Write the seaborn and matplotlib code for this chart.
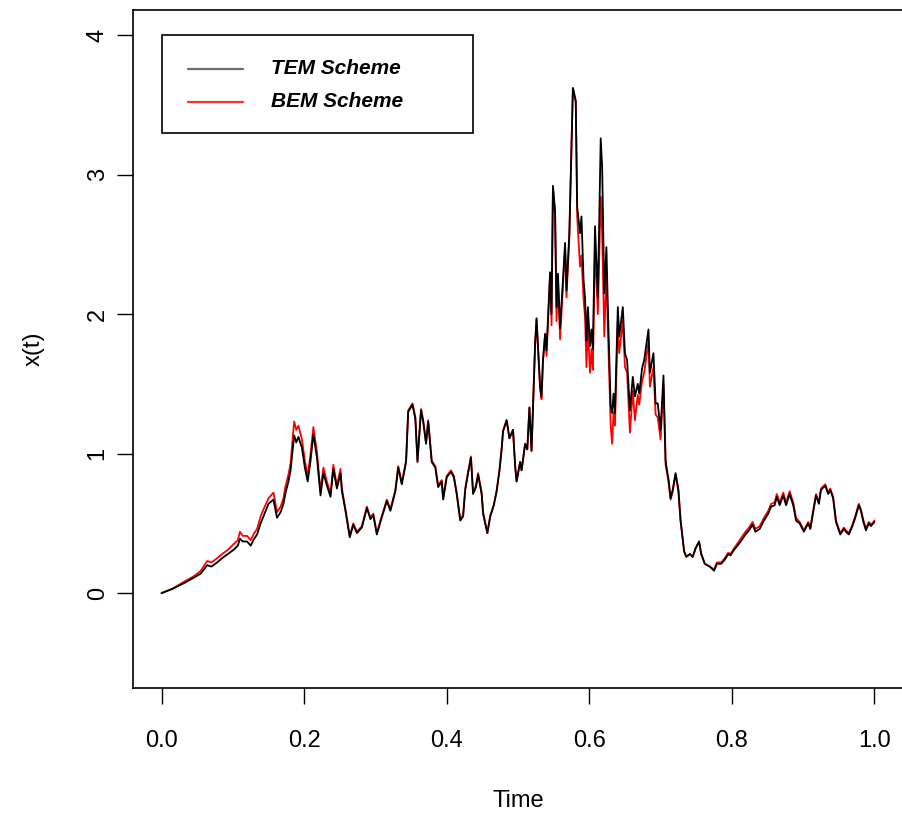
import seaborn as sns
import matplotlib.pyplot as plt
import pandas as pd
from matplotlib.patches import Rectangle

# values
time = [0.000, 0.015, 0.031, 0.045, 0.055, 0.064, 0.070, 0.078, 0.085, 0.093,
        0.101, 0.107, 0.110, 0.114, 0.120, 0.125, 0.130, 0.134, 0.139, 0.143,
        0.150, 0.157, 0.162, 0.167, 0.171, 0.174, 0.178, 0.181, 0.186, 0.189,
        0.192, 0.197, 0.201, 0.205, 0.209, 0.213, 0.218, 0.223, 0.227, 0.232,
        0.237, 0.241, 0.246, 0.251, 0.253, 0.258, 0.264, 0.269, 0.274, 0.281,
        0.288, 0.293, 0.297, 0.302, 0.307, 0.316, 0.321, 0.328, 0.332, 0.337,
        0.343, 0.346, 0.352, 0.356, 0.359, 0.364, 0.367, 0.371, 0.374, 0.379,
        0.384, 0.388, 0.393, 0.395, 0.400, 0.406, 0.410, 0.414, 0.419, 0.423,
        0.426, 0.430, 0.434, 0.437, 0.441, 0.444, 0.449, 0.451, 0.457, 0.461,
        0.466, 0.470, 0.474, 0.477, 0.479, 0.484, 0.488, 0.493, 0.496, 0.498,
        0.503, 0.505, 0.510, 0.513, 0.516, 0.519, 0.524, 0.526, 0.531, 0.533,
        0.535, 0.538, 0.540, 0.545, 0.547, 0.549, 0.552, 0.554, 0.556, 0.559,
        0.563, 0.566, 0.568, 0.572, 0.577, 0.581, 0.583, 0.587, 0.589, 0.592,
        0.594, 0.596, 0.598, 0.601, 0.603, 0.605, 0.608, 0.611, 0.612, 0.616,
        0.618, 0.621, 0.624, 0.626, 0.630, 0.632, 0.634, 0.636, 0.640, 0.642,
        0.647, 0.650, 0.653, 0.657, 0.661, 0.664, 0.668, 0.670, 0.674, 0.677,
        0.683, 0.685, 0.690, 0.693, 0.696, 0.700, 0.704, 0.707, 0.709, 0.711,
        0.714, 0.717, 0.721, 0.725, 0.728, 0.733, 0.736, 0.741, 0.745, 0.749,
        0.754, 0.757, 0.762, 0.769, 0.775, 0.779, 0.785, 0.790, 0.795, 0.798,
        0.803, 0.811, 0.819, 0.824, 0.829, 0.833, 0.839, 0.845, 0.851, 0.855,
        0.860, 0.863, 0.867, 0.872, 0.876, 0.881, 0.886, 0.890, 0.895, 0.901,
        0.907, 0.910, 0.915, 0.918, 0.922, 0.925, 0.931, 0.935, 0.938, 0.942,
        0.946, 0.952, 0.957, 0.960, 0.964, 0.969, 0.973, 0.978, 0.981, 0.984,
        0.988, 0.992, 0.995, 1.000]

tem = [0.00, 0.03, 0.07, 0.11, 0.14, 0.20, 0.19, 0.22, 0.25, 0.28,
       0.31, 0.34, 0.39, 0.37, 0.37, 0.34, 0.39, 0.42, 0.50, 0.55,
       0.64, 0.67, 0.54, 0.58, 0.64, 0.72, 0.80, 0.88, 1.13, 1.08,
       1.12, 1.04, 0.90, 0.80, 0.95, 1.14, 0.97, 0.70, 0.86, 0.77,
       0.69, 0.89, 0.75, 0.86, 0.73, 0.59, 0.40, 0.49, 0.43, 0.47,
       0.61, 0.53, 0.56, 0.42, 0.51, 0.66, 0.59, 0.73, 0.90, 0.78,
       0.94, 1.30, 1.35, 1.25, 0.94, 1.31, 1.23, 1.07, 1.23, 0.94,
       0.90, 0.76, 0.80, 0.67, 0.83, 0.87, 0.83, 0.71, 0.52, 0.55,
       0.74, 0.86, 0.97, 0.71, 0.76, 0.85, 0.71, 0.57, 0.43, 0.55,
       0.63, 0.73, 0.88, 1.03, 1.16, 1.24, 1.11, 1.17, 0.91, 0.80,
       0.94, 0.88, 1.07, 1.03, 1.33, 1.02, 1.79, 1.97, 1.48, 1.41,
       1.67, 1.86, 1.74, 2.30, 2.00, 2.92, 2.74, 2.05, 2.29, 1.90,
       2.24, 2.51, 2.17, 2.58, 3.62, 3.53, 2.77, 2.58, 2.70, 2.24,
       2.12, 1.81, 2.05, 1.77, 1.89, 1.75, 2.63, 2.24, 2.12, 3.26,
       3.06, 2.15, 2.48, 2.05, 1.34, 1.29, 1.43, 1.29, 2.05, 1.84,
       2.05, 1.72, 1.67, 1.31, 1.55, 1.41, 1.50, 1.43, 1.61, 1.67,
       1.89, 1.58, 1.72, 1.36, 1.36, 1.17, 1.56, 0.95, 0.88, 0.82,
       0.68, 0.74, 0.86, 0.74, 0.52, 0.30, 0.26, 0.28, 0.26, 0.32,
       0.37, 0.28, 0.21, 0.19, 0.16, 0.21, 0.21, 0.24, 0.28, 0.27,
       0.31, 0.36, 0.42, 0.45, 0.49, 0.44, 0.46, 0.52, 0.57, 0.62,
       0.63, 0.69, 0.63, 0.70, 0.63, 0.71, 0.63, 0.52, 0.50, 0.44,
       0.50, 0.46, 0.61, 0.70, 0.64, 0.74, 0.77, 0.71, 0.74, 0.68,
       0.51, 0.42, 0.46, 0.44, 0.42, 0.48, 0.54, 0.63, 0.59, 0.52,
       0.45, 0.50, 0.48, 0.51]

bem = [0.00, 0.03, 0.08, 0.12, 0.16, 0.23, 0.22, 0.25, 0.28, 0.31,
       0.35, 0.38, 0.44, 0.41, 0.41, 0.38, 0.43, 0.46, 0.55, 0.60,
       0.68, 0.72, 0.58, 0.62, 0.68, 0.77, 0.85, 0.93, 1.23, 1.17,
       1.20, 1.10, 0.95, 0.84, 1.00, 1.19, 1.01, 0.73, 0.90, 0.80,
       0.71, 0.92, 0.77, 0.89, 0.75, 0.60, 0.41, 0.50, 0.44, 0.48,
       0.62, 0.54, 0.57, 0.43, 0.52, 0.67, 0.60, 0.74, 0.91, 0.79,
       0.95, 1.31, 1.36, 1.26, 0.95, 1.32, 1.24, 1.08, 1.24, 0.95,
       0.91, 0.77, 0.81, 0.68, 0.84, 0.88, 0.84, 0.72, 0.53, 0.56,
       0.75, 0.87, 0.98, 0.72, 0.77, 0.86, 0.72, 0.58, 0.43, 0.55,
       0.63, 0.73, 0.88, 1.03, 1.16, 1.24, 1.11, 1.17, 0.91, 0.80,
       0.94, 0.88, 1.07, 1.03, 1.33, 1.02, 1.78, 1.96, 1.46, 1.39,
       1.66, 1.85, 1.70, 2.28, 1.92, 2.90, 2.70, 1.95, 2.24, 1.82,
       2.20, 2.48, 2.12, 2.55, 3.62, 3.52, 2.70, 2.34, 2.42, 2.10,
       1.98, 1.62, 1.90, 1.58, 1.75, 1.60, 2.50, 2.12, 2.00, 2.84,
       2.58, 1.84, 2.30, 1.90, 1.20, 1.07, 1.30, 1.20, 1.95, 1.72,
       1.95, 1.62, 1.58, 1.15, 1.45, 1.24, 1.42, 1.35, 1.52, 1.58,
       1.80, 1.48, 1.62, 1.28, 1.26, 1.10, 1.50, 0.92, 0.86, 0.80,
       0.67, 0.73, 0.85, 0.73, 0.52, 0.30, 0.26, 0.28, 0.26, 0.32,
       0.37, 0.28, 0.21, 0.19, 0.17, 0.22, 0.22, 0.25, 0.29, 0.28,
       0.32, 0.38, 0.44, 0.47, 0.51, 0.46, 0.48, 0.54, 0.59, 0.64,
       0.65, 0.71, 0.65, 0.72, 0.65, 0.73, 0.65, 0.54, 0.51, 0.45,
       0.51, 0.47, 0.62, 0.71, 0.65, 0.75, 0.78, 0.72, 0.75, 0.69,
       0.52, 0.43, 0.47, 0.45, 0.43, 0.49, 0.55, 0.64, 0.60, 0.53,
       0.46, 0.51, 0.49, 0.52]

schemes = ["TEM Scheme", "BEM Scheme"]
line_colors = {"TEM Scheme": "black", "BEM Scheme": "red"}
legend_colors = {"TEM Scheme": "#6e6e6e", "BEM Scheme": "#ff3030"}

df = pd.DataFrame({"time": time, "TEM Scheme": tem, "BEM Scheme": bem})
df = df.melt(id_vars="time", var_name="scheme", value_name="x")

sns.set_theme(style="white")
plt.rcParams["font.family"] = ["Liberation Sans", "DejaVu Sans"]
plt.rcParams["text.color"] = "black"
plt.rcParams["axes.labelcolor"] = "black"

fig = plt.figure(figsize=(9.03, 8.13), dpi=100)
ax = fig.add_axes([0.1473, 0.1538, 0.8527, 0.8339])

# red first, black drawn on top
sns.lineplot(data=df, x="time", y="x", hue="scheme",
             hue_order=["BEM Scheme", "TEM Scheme"], palette=line_colors,
             estimator=None, sort=False, linewidth=1.3, legend=False, ax=ax)

ax.set_xlim(-0.04, 1.04)
ax.set_ylim(-0.68, 4.18)
ax.set_xticks([0.0, 0.2, 0.4, 0.6, 0.8, 1.0])
ax.set_xticklabels(["0.0", "0.2", "0.4", "0.6", "0.8", "1.0"])
ax.set_yticks([0, 1, 2, 3, 4])
ax.set_yticklabels(["0", "1", "2", "3", "4"], rotation=90, va="center")

for side in ["left", "right", "top", "bottom"]:
    ax.spines[side].set_visible(True)
    ax.spines[side].set_color("black")
    ax.spines[side].set_linewidth(1.2)

ax.tick_params(axis="both", direction="out", length=11.5, width=1.0,
               color="black", labelsize=17, labelcolor="black")
ax.tick_params(axis="x", pad=19, bottom=True)
ax.tick_params(axis="y", pad=6, left=True)

ax.set_xlabel("Time", fontsize=17, labelpad=27, color="black")
ax.set_ylabel("x(t)", fontsize=17, labelpad=30, color="black")

# legend box in R style
ax.add_patch(Rectangle((0.0377, 0.8186), 0.4039, 0.1445, transform=ax.transAxes,
                       fill=False, edgecolor="black", linewidth=1.2, zorder=5))
for name, ypos in zip(schemes, [0.9130, 0.8650]):
    ax.plot([0.0714, 0.1429], [ypos, ypos], transform=ax.transAxes,
            color=legend_colors[name], linewidth=1.6, zorder=5)
    ax.text(0.1792, ypos, name, transform=ax.transAxes, fontsize=15, color="black",
            fontweight="bold", fontstyle="italic", va="center", ha="left", zorder=5)

fig.savefig("out.png", dpi=100)
